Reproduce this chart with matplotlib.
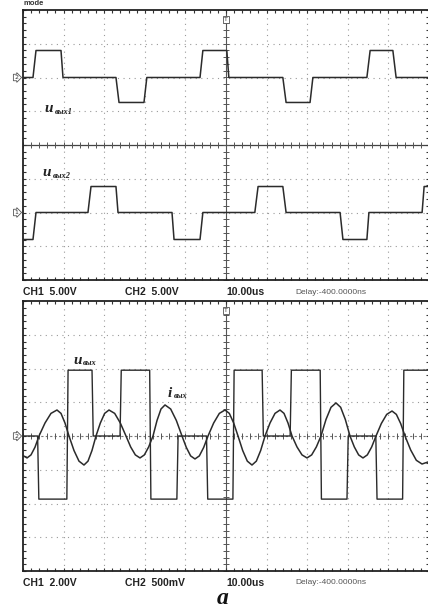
import numpy as np
import matplotlib
matplotlib.use("Agg")
import matplotlib.pyplot as plt
import matplotlib.transforms as mtransforms

# time axis in microseconds (10 us/div), levels in screen divisions
# --- top screen: two channels, CH2 = u_вых1 (ref +2 div), CH1 = u_вых2 (ref -2 div)
u1_t = [0, 2.46, 3.2, 9.36, 9.85, 22.9, 23.65, 29.8, 30.5, 43.6, 44.3, 50.2, 50.7,
        64.0, 64.8, 70.7, 71.4, 84.7, 85.5, 91.1, 91.9, 100]
u1_v = [0, 0, 0.8, 0.8, 0, 0, -0.74, -0.74, 0, 0, 0.8, 0.8, 0,
        0, -0.74, -0.74, 0, 0, 0.8, 0.8, 0, 0]

u2_t = [0, 2.46, 3.2, 16.0, 16.75, 22.9, 23.4, 36.7, 37.2, 43.6, 44.3, 57.1, 57.9,
        64.0, 64.8, 78.1, 78.8, 84.7, 85.2, 98.3, 98.8, 100]
u2_v = [-0.8, -0.8, 0, 0, 0.77, 0.77, 0, 0, -0.8, -0.8, 0, 0, 0.77,
        0.77, 0, 0, -0.8, -0.8, 0, 0, 0.77, 0.77]

# --- bottom screen: output voltage u_вых (CH1) and output current i_вых (CH2)
u_t = [0, 3.6, 3.9, 10.8, 11.1, 17.0, 17.3, 23.9, 24.2, 31.2, 31.5, 37.9, 38.2,
       45.2, 45.5, 51.7, 52.0, 58.9, 59.2, 65.8, 66.1, 73.2, 73.5, 79.8, 80.1,
       86.9, 87.2, 93.5, 93.8, 100]
u_v = [0, 0, -1.87, -1.87, 1.95, 1.95, 0, 0, 1.95, 1.95, -1.87, -1.87, 0,
       0, -1.87, -1.87, 1.95, 1.95, 0, 0, 1.95, 1.95, -1.87, -1.87, 0,
       0, -1.87, -1.87, 1.95, 1.95]

i_t = [0.00, 0.99, 1.97, 2.96, 3.94, 5.42, 6.89, 8.37, 9.36, 10.34, 11.33, 12.56,
       13.79, 15.02, 16.01, 16.99, 17.98, 19.05, 20.11, 21.18, 22.58, 23.97, 25.37,
       26.52, 27.67, 28.82, 29.89, 30.95, 32.02, 33.01, 33.99, 34.98, 36.37, 37.77,
       39.16, 40.23, 41.29, 42.36, 43.43, 44.50, 45.57, 46.96, 48.36, 49.75, 50.82,
       51.89, 52.96, 54.11, 55.25, 56.40, 57.47, 58.54, 59.61, 60.84, 62.07, 63.30,
       64.29, 65.27, 66.26, 67.49, 68.72, 69.95, 71.10, 72.25, 73.40, 74.63, 75.86,
       77.09, 78.24, 79.39, 80.54, 81.61, 82.67, 83.74, 84.81, 85.88, 86.95, 88.26,
       89.58, 90.89, 91.96, 93.02, 94.09, 95.49, 96.88, 98.28, 100.0]
i_v = [-0.58, -0.65, -0.56, -0.33, 0.0, 0.385, 0.67, 0.77, 0.67, 0.385, 0.0, -0.43,
       -0.745, -0.86, -0.745, -0.43, 0.0, 0.385, 0.67, 0.77, 0.67, 0.385, 0.0,
       -0.325, -0.56, -0.65, -0.56, -0.325, 0.0, 0.46, 0.80, 0.92, 0.80, 0.46,
       0.0, -0.34, -0.59, -0.68, -0.59, -0.34, 0.0, 0.385, 0.67, 0.77, 0.67,
       0.385, 0.0, -0.43, -0.745, -0.86, -0.745, -0.43, 0.0, 0.385, 0.67, 0.77,
       0.67, 0.385, 0.0, -0.325, -0.56, -0.65, -0.56, -0.325, 0.0, 0.49, 0.85,
       0.98, 0.85, 0.49, 0.0, -0.325, -0.56, -0.65, -0.56, -0.325, 0.0, 0.37,
       0.64, 0.74, 0.64, 0.37, 0.0, -0.415, -0.72, -0.83, -0.76]

top_info = ["CH1  5.00V", "CH2  5.00V", "10.00us", "Delay:-400.0000ns"]
bot_info = ["CH1  2.00V", "CH2  500mV", "10.00us", "Delay:-400.0000ns"]

W, H = 428, 611
fig = plt.figure(figsize=(W / 100, H / 100), dpi=100)
fig.patch.set_facecolor("white")

TRACE = "#2b2b2b"
GRID = "#9a9a9a"
scope_font = ["Liberation Sans Narrow", "Liberation Sans", "DejaVu Sans"]
serif = "Liberation Serif"


def px_box(x0, y0, x1, y1):
    return [x0 / W, 1 - y1 / H, (x1 - x0) / W, (y1 - y0) / H]


def screen(ax, solid_center):
    ax.set_xlim(0, 100)
    ax.set_ylim(-4, 4)
    for s in ax.spines.values():
        s.set_linewidth(1.3)
        s.set_color("#222222")
    ax.set_xticks(np.arange(0, 101, 10))
    ax.set_xticks(np.arange(0, 101, 2), minor=True)
    ax.set_yticks(np.arange(-4, 5, 1))
    ax.set_yticks(np.arange(-4, 4.01, 0.2), minor=True)
    ax.tick_params(which="both", direction="in", length=2.5, width=0.8,
                   top=True, right=True, labelbottom=False, labelleft=False,
                   color="#333333")
    for x in range(10, 100, 10):
        if x != 50:
            ax.axvline(x, color=GRID, lw=0.8, ls=(0, (1, 4)), zorder=1)
    for y in range(-3, 4):
        if y != 0:
            ax.axhline(y, color=GRID, lw=0.8, ls=(0, (1, 4)), zorder=1)
    ax.axvline(50, color="#555555", lw=0.8, zorder=1)
    if solid_center:
        ax.axhline(0, color="#444444", lw=0.9, zorder=1)
    else:
        ax.axhline(0, color="#777777", lw=0.8, ls=(0, (2, 2)), zorder=1)
    # small cross ticks along the centre lines
    xs = np.arange(0, 100.1, 2)
    ax.plot(xs, np.zeros_like(xs), ls="none", marker="|", ms=4, mew=0.7,
            color="#555555", zorder=1)
    ys = np.arange(-4, 4.01, 0.2)
    ax.plot(np.full_like(ys, 50), ys, ls="none", marker="_", ms=4, mew=0.7,
            color="#555555", zorder=1)
    ax.text(50, 3.72, "T", fontsize=4.5, ha="center", va="center", color="#333",
            bbox=dict(boxstyle="square,pad=0.15", fc="white", ec="#555", lw=0.6),
            zorder=5)


def ch_marker(ax, y, label):
    tr = mtransforms.blended_transform_factory(ax.transAxes, ax.transData)
    ax.text(-0.012, y, label, transform=tr, fontsize=4.5, ha="right", va="center",
            color="#333", clip_on=False,
            bbox=dict(boxstyle="rarrow,pad=0.12", fc="white", ec="#555", lw=0.6))


def label(ax, x, y, main, sub, gap=7.5):
    ax.text(x, y, main, fontsize=11, family=serif, fontstyle="italic",
            fontweight="bold", ha="left", va="center", color="#222", zorder=6)
    ax.annotate(sub, xy=(x, y), xytext=(gap, -2.2), textcoords="offset points",
                fontsize=6, family=serif, fontstyle="italic", fontweight="bold",
                ha="left", va="center", color="#222", zorder=6)


def info_row(ypx, items):
    xs = [23, 23 + 102, 226, 295]
    for k, (x, s) in enumerate(zip(xs, items)):
        if k == 3:
            fig.text(x / W, 1 - ypx / H, s, fontsize=6, family=scope_font,
                     color="#555555", va="center", ha="left")
        else:
            fig.text(x / W, 1 - ypx / H, s, fontsize=7.5, family=scope_font,
                     fontweight="bold", color="#222222", va="center", ha="left")


# top screen
ax1 = fig.add_axes(px_box(23, 10, 429, 280))
screen(ax1, True)
ax1.plot(u1_t, np.array(u1_v) + 2, color=TRACE, lw=1.1, zorder=3)
ax1.plot(u2_t, np.array(u2_v) - 2, color=TRACE, lw=1.1, zorder=3)
ch_marker(ax1, 2, "2")
ch_marker(ax1, -2, "1")
label(ax1, 5.4, 1.08, "u", "вых1")
label(ax1, 4.9, -0.82, "u", "вых2")

# bottom screen
ax2 = fig.add_axes(px_box(23, 301, 429, 571))
screen(ax2, False)
ax2.plot(u_t, u_v, color=TRACE, lw=1.0, zorder=3)
ax2.plot(i_t, i_v, color=TRACE, lw=1.1, zorder=3, solid_joinstyle="round")
ch_marker(ax2, 0, "2")
label(ax2, 12.3, 2.25, "u", "вых")
label(ax2, 35.7, 1.27, "i", "вых", gap=4.2)

info_row(292, top_info)
info_row(583, bot_info)

# header bit and sub-figure letter
fig.text(23 / W, 0.9995, "mode", fontsize=5.5, family=scope_font, fontweight="bold",
         color="#333", va="top", ha="left")
fig.text(223 / W, 0.003, "а", fontsize=17, family=serif, fontstyle="italic",
         fontweight="bold", color="#111", ha="center", va="bottom")

fig.savefig("out.png", dpi=100, facecolor="white")
